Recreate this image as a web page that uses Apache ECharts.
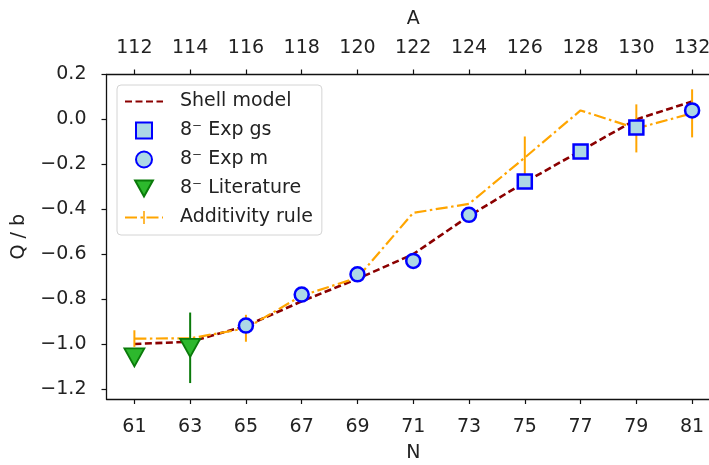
<!DOCTYPE html>
<html>
<head>
<meta charset="utf-8">
<script src="https://cdn.jsdelivr.net/npm/echarts@6/dist/echarts.min.js"></script>
<style>
  html, body { margin: 0; padding: 0; background: #fff; }
  #chart { width: 709px; height: 465px; }
</style>
</head>
<body>
<div id="chart"></div>
<script>
(function () {
    'use strict';

    // neutron number N, mass number A = N + 51
    var nValues = [61, 63, 65, 67, 69, 71, 73, 75, 77, 79, 81];
    var aTicks = [112, 114, 116, 118, 120, 122, 124, 126, 128, 130, 132];
    var yTicks = [-1.2, -1.0, -0.8, -0.6, -0.4, -0.2, 0.0, 0.2];

    var shellModel = [-1.00, -0.99, -0.92, -0.81, -0.71, -0.60, -0.43, -0.28, -0.14, 0.00, 0.08];
    var expGs = [null, null, null, null, null, null, null, -0.276, -0.143, -0.036, null];
    var expM = [null, null, -0.918, -0.78, -0.69, -0.63, -0.425, null, null, null, 0.04];
    var literature = [-1.06, -1.017, null, null, null, null, null, null, null, null, null];
    var literatureErr = [0.02, 0.157, 0, 0, 0, 0, 0, 0, 0, 0, 0];
    var additivity = [-0.976, -0.975, -0.93, -0.785, -0.705, -0.416, -0.376, -0.17, 0.04, -0.04, 0.027];
    var additivityErr = [0.037, 0, 0.06, 0, 0, 0, 0, 0.094, 0, 0.107, 0.107];

    var font = 'DejaVu Sans';
    var textColor = '#222';

    // marker shapes as paths so the legend keeps their aspect
    var squarePath = 'path://M0,0H10V10H0Z';
    var circlePath = 'path://M5,0A5,5,0,1,1,5,10A5,5,0,1,1,5,0Z';
    var triDownPath = 'path://M0,0L10,0L5,9Z';
    // thin vertical bar inside a square box (legend handle of the error bar)
    var barPath = 'path://M4.4,0H5.6V10H4.4Z M0,0H0.001V0.001Z M10,10H9.999V9.999Z';

    function pairs(values) {
        var out = [];
        for (var i = 0; i < values.length; i++) {
            if (values[i] !== null) {
                out.push([nValues[i], values[i]]);
            }
        }
        return out;
    }

    function errorData(values, errs) {
        var out = [];
        for (var i = 0; i < values.length; i++) {
            if (values[i] !== null && errs[i] > 0) {
                out.push([nValues[i], values[i] - errs[i], values[i] + errs[i]]);
            }
        }
        return out;
    }

    function errorSeries(data, color, z) {
        return {
            type: 'custom',
            z: z,
            silent: true,
            renderItem: function (params, api) {
                var p1 = api.coord([api.value(0), api.value(1)]);
                var p2 = api.coord([api.value(0), api.value(2)]);
                return {
                    type: 'line',
                    shape: { x1: p1[0], y1: p1[1], x2: p2[0], y2: p2[1] },
                    style: { stroke: color, lineWidth: 2 }
                };
            },
            encode: { x: 0, y: [1, 2] },
            data: data
        };
    }

    function fmtY(v) {
        return (v < 0 ? '\u2212' : '') + Math.abs(v).toFixed(1);
    }

    var axisLine = { show: true, onZero: false, lineStyle: { color: '#111', width: 1.3 } };
    var tickLine = { color: '#111', width: 1.2 };

    var markerStyle = { color: '#add8e6', borderColor: '#0000ff', borderWidth: 2.5, opacity: 1 };
    var litStyle = { color: '#2db82d', borderColor: '#0a7a0a', borderWidth: 1.8, opacity: 1 };

    var chart = echarts.init(document.getElementById('chart'));

    chart.setOption({
        animation: false,
        backgroundColor: '#fff',
        textStyle: { fontFamily: font },
        // right spine falls outside the picture
        grid: { left: 106.5, top: 74.5, width: 613.5, height: 324.5, outerBoundsMode: 'none' },
        legend: {
            orient: 'vertical',
            left: 117,
            top: 85,
            z: 10,
            padding: [7, 9, 8, 7],
            itemWidth: 38,
            itemHeight: 16,
            itemGap: 10,
            symbolKeepAspect: true,
            backgroundColor: 'rgba(255,255,255,0.85)',
            borderColor: '#d4d4d4',
            borderWidth: 1,
            borderRadius: 4,
            textStyle: { fontFamily: font, fontSize: 19, color: textColor, padding: [0, 0, 0, 12] },
            data: [
                { name: 'Shell model', itemStyle: { opacity: 0 } },
                { name: '8\u207B Exp gs', icon: squarePath },
                { name: '8\u207B Exp m', icon: circlePath },
                { name: '8\u207B Literature', icon: triDownPath },
                { name: 'Additivity rule' }
            ]
        },
        xAxis: [{
            type: 'value',
            position: 'bottom',
            min: 60,
            max: 82,
            name: 'N',
            nameLocation: 'middle',
            nameGap: 45,
            nameTextStyle: { fontFamily: font, fontSize: 19, color: textColor },
            axisLine: axisLine,
            axisTick: { show: true, length: 5, lineStyle: tickLine, customValues: nValues },
            axisLabel: { fontFamily: font, fontSize: 19, color: textColor, margin: 19, customValues: nValues },
            splitLine: { show: false }
        }, {
            type: 'value',
            position: 'top',
            min: 111,
            max: 133,
            name: 'A',
            nameLocation: 'middle',
            nameGap: 46,
            nameTextStyle: { fontFamily: font, fontSize: 19, color: textColor },
            axisLine: axisLine,
            axisTick: { show: true, length: 5, lineStyle: tickLine, customValues: aTicks },
            axisLabel: { fontFamily: font, fontSize: 19, color: textColor, margin: 17, customValues: aTicks },
            splitLine: { show: false }
        }],
        yAxis: {
            type: 'value',
            min: -1.245,
            max: 0.2,
            name: 'Q / b',
            nameLocation: 'middle',
            nameGap: 78,
            nameTextStyle: { fontFamily: font, fontSize: 19, color: textColor },
            axisLine: axisLine,
            axisTick: { show: true, length: 5, lineStyle: tickLine, customValues: yTicks },
            axisLabel: {
                fontFamily: font, fontSize: 19, color: textColor, margin: 20,
                customValues: yTicks, formatter: fmtY
            },
            splitLine: { show: false }
        },
        series: [{
            name: 'Shell model',
            type: 'line',
            z: 2,
            symbol: 'none',
            color: '#8b0000',
            lineStyle: { color: '#8b0000', width: 2.6, type: [7, 3.5] },
            data: pairs(shellModel)
        }, errorSeries(errorData(additivity, additivityErr), '#ffa500', 3), {
            name: 'Additivity rule',
            type: 'line',
            z: 3,
            symbol: barPath,
            showSymbol: false,
            color: '#ffa500',
            itemStyle: { color: '#ffa500' },
            lineStyle: { color: '#ffa500', width: 2.2, type: [12, 3.5, 2.5, 3.5] },
            data: pairs(additivity)
        }, errorSeries(errorData(literature, literatureErr), '#0a7a0a', 4), {
            name: '8\u207B Exp gs',
            type: 'scatter',
            z: 5,
            symbol: squarePath,
            symbolSize: 14,
            itemStyle: markerStyle,
            data: pairs(expGs)
        }, {
            name: '8\u207B Exp m',
            type: 'scatter',
            z: 5,
            symbol: circlePath,
            symbolSize: 14,
            itemStyle: markerStyle,
            data: pairs(expM)
        }, {
            name: '8\u207B Literature',
            type: 'scatter',
            z: 5,
            symbol: triDownPath,
            symbolSize: [20, 18],
            itemStyle: litStyle,
            data: pairs(literature)
        }]
    });
}());
</script>
</body>
</html>
